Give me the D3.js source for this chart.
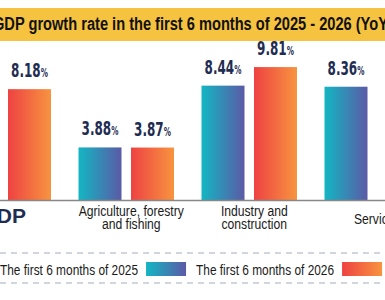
<!DOCTYPE html>
<html>
<head>
<meta charset="utf-8">
<script src="https://cdn.jsdelivr.net/npm/d3@7/dist/d3.min.js"></script>
<style>
  html, body { margin: 0; padding: 0; background: #fff; }
  svg { display: block; }
</style>
</head>
<body>
<svg id="chart"></svg>
<script>
// Data (GDP 2025 and Services 2026 fall outside the crop)
const categories = ['GDP', 'Agriculture, forestry|and fishing', 'Industry and|construction', 'Services'];
const periods = ['2025', '2026'];
const values2025 = [7.52, 3.88, 8.44, 8.36];
const values2026 = [8.18, 3.87, 9.81, null];
const legendLabels = ['The first 6 months of 2025', 'The first 6 months of 2026'];
const title = 'GDP growth rate in the first 6 months of 2025 - 2026 (YoY)';

const W = 385, H = 300;
const baseY = 200;
const sans = '"Liberation Sans", Arial, sans-serif';
const navy = '#1f2d52';

const svg = d3.select('#chart').attr('width', W).attr('height', H);

// Gradients for the two periods
const defs = svg.append('defs');
const gradColors = { '2025': ['#13b6c3', '#5b5aa6'], '2026': ['#ee4242', '#f7943f'] };
periods.forEach(p => {
    const g = defs.append('linearGradient').attr('id', 'grad' + p);
    g.append('stop').attr('offset', '0%').attr('stop-color', gradColors[p][0]);
    g.append('stop').attr('offset', '100%').attr('stop-color', gradColors[p][1]);
});

// Title banner (narrow type faked with a horizontal squeeze)
svg.append('rect')
    .attr('x', 0).attr('y', 8)
    .attr('width', W).attr('height', 33)
    .attr('fill', '#f6c341');
svg.append('text')
    .attr('transform', 'translate(-7,30) scale(0.77,1)')
    .attr('font-family', sans)
    .attr('font-weight', 'bold')
    .attr('font-size', '19px')
    .attr('fill', '#111')
    .text(title);

// Scales
const x0 = d3.scaleBand()
    .domain(categories)
    .range([-58.25, 433.75])
    .padding(0);

const x1 = d3.scaleBand()
    .domain(periods)
    .range([0, x0.bandwidth()])
    .paddingInner(0.181)
    .paddingOuter(0.262);

const y = d3.scaleLinear()
    .domain([0, 10])
    .range([baseY, 64.5]);

const rows = categories.map((c, i) => ({ cat: c, '2025': values2025[i], '2026': values2026[i] }));

// Bars
const groups = svg.selectAll('.grp')
    .data(rows)
    .join('g')
    .attr('class', 'grp')
    .attr('transform', d => `translate(${x0(d.cat)},0)`);

const bars = groups.selectAll('.bar')
    .data(d => periods.map(p => ({ p, v: d[p] })).filter(b => b.v != null))
    .join('g')
    .attr('class', 'bar');

bars.append('rect')
    .attr('x', d => x1(d.p))
    .attr('y', d => y(d.v))
    .attr('width', x1.bandwidth())
    .attr('height', d => baseY - y(d.v))
    .attr('fill', d => `url(#grad${d.p})`);

// Value labels (condensed look)
const lbl = bars.append('text')
    .attr('transform', d => `translate(${x1(d.p) + x1.bandwidth() / 2},${y(d.v) - 12}) scale(0.6,1)`)
    .attr('text-anchor', 'middle')
    .attr('font-family', '"DejaVu Sans", sans-serif')
    .attr('font-weight', 'bold')
    .attr('fill', navy);
lbl.append('tspan')
    .attr('font-size', '20px')
    .text(d => d.v.toFixed(2));
lbl.append('tspan')
    .attr('font-size', '12px')
    .text('%');

// Axis line
svg.append('g')
    .attr('transform', `translate(0,${baseY})`)
    .call(d3.axisBottom(x0).tickSize(0).tickFormat(''))
    .call(g => g.select('.domain').attr('stroke', '#888').attr('stroke-width', 1.5));

// Category labels
categories.forEach(c => {
    const cx = x0(c) + x0.bandwidth() / 2;
    if (c === 'GDP') {
        svg.append('text')
            .attr('x', cx).attr('y', 223)
            .attr('text-anchor', 'middle')
            .attr('font-family', sans)
            .attr('font-weight', 'bold')
            .attr('font-size', '21px')
            .attr('fill', navy)
            .text(c);
        return;
    }
    const lines = c.split('|');
    const t = svg.append('text')
        .attr('transform', `translate(${cx + 5},0) scale(0.81,1)`)
        .attr('text-anchor', 'middle')
        .attr('font-family', sans)
        .attr('font-size', '15px')
        .attr('fill', '#1a1a1a');
    const y0 = lines.length === 1 ? 224 : 216;
    lines.forEach((l, i) => {
        t.append('tspan')
            .attr('x', 0)
            .attr('y', y0 + i * 13)
            .text(l);
    });
});

// Legend
[253, 283].forEach(ly => {
    svg.append('line')
        .attr('x1', 0).attr('x2', W)
        .attr('y1', ly).attr('y2', ly)
        .attr('stroke', '#a3abbb')
        .attr('stroke-width', 1)
        .attr('stroke-dasharray', '6,5');
});

const legSqueeze = 0.82;
let lx = 0;
legendLabels.forEach((l, i) => {
    const t = svg.append('text')
        .attr('transform', `translate(${lx},275) scale(${legSqueeze},1)`)
        .attr('font-family', sans)
        .attr('font-size', '14.5px')
        .attr('fill', '#1a1a1a')
        .text(l);
    lx += t.node().getComputedTextLength() * legSqueeze + 8;
    svg.append('rect')
        .attr('x', lx).attr('y', 262)
        .attr('width', 40).attr('height', 14)
        .attr('fill', `url(#grad${periods[i]})`);
    lx += 50;
});
</script>
</body>
</html>
